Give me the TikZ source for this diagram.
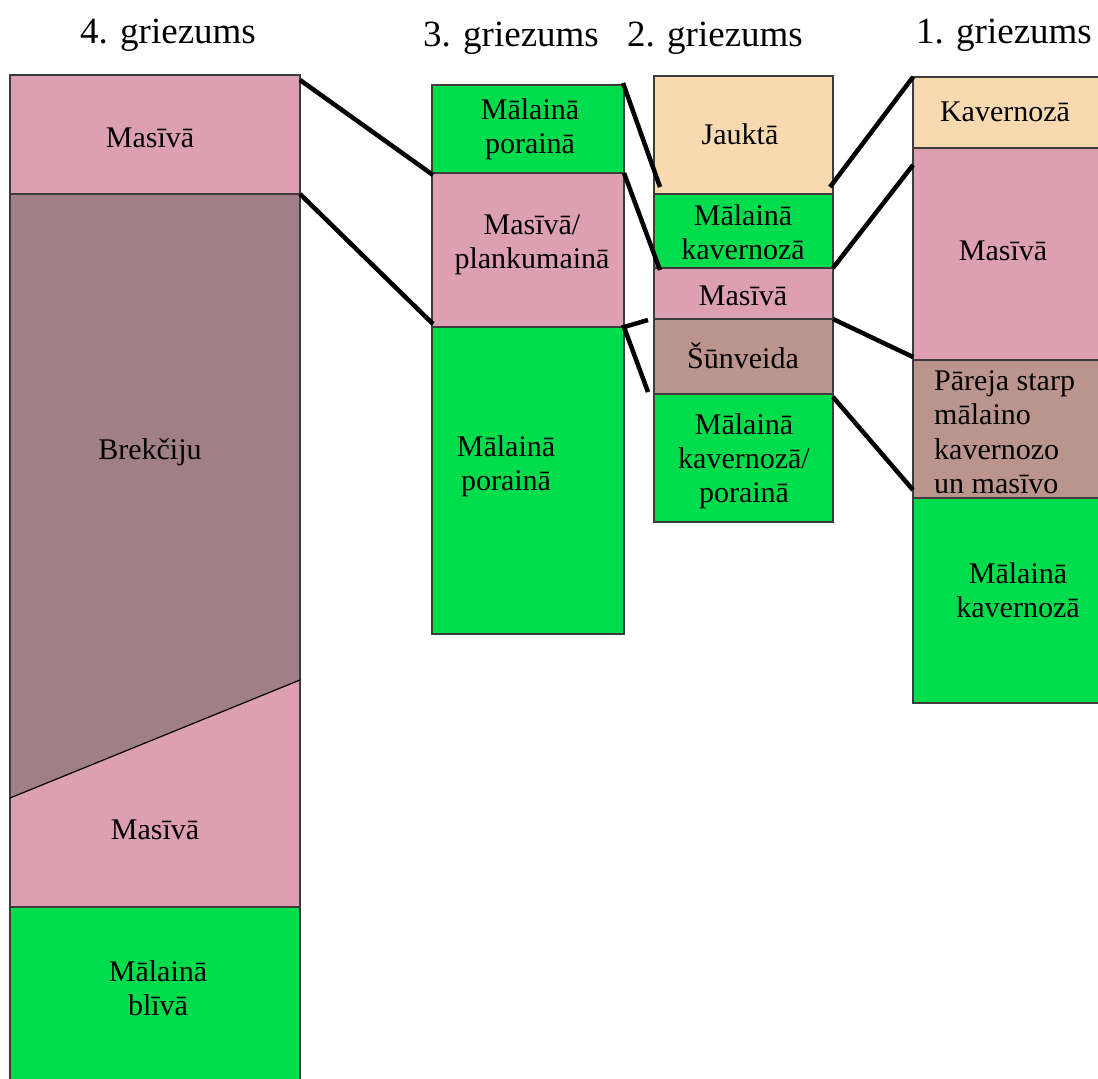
\documentclass[tikz,border=0pt]{standalone}
\usepackage{fontspec}
\setmainfont{Liberation Serif}
\usetikzlibrary{calc}
\definecolor{pinkc}{RGB}{221,160,178}
\definecolor{mauve}{RGB}{160,127,134}
\definecolor{greenc}{RGB}{0,221,76}
\definecolor{peach}{RGB}{248,217,176}
\definecolor{brownc}{RGB}{188,148,142}
\definecolor{edge}{RGB}{60,60,60}
\tikzset{
  cell/.style={draw=edge, line width=1.3pt, inner sep=0pt, outer sep=0pt, anchor=north west},
  lbl/.style={font=\fontsize{30}{34}\selectfont, align=center, inner sep=0pt},
  ttl/.style={font=\fontsize{37}{40}\selectfont, anchor=base, inner sep=0pt},
  conn/.style={line width=4.5pt, black}
}
\begin{document}
\begin{tikzpicture}[x=1pt,y=-1pt]
\useasboundingbox (0,0) rectangle (1098,1079);
\clip (0,0) rectangle (1098,1079);
\fill[white] (0,0) rectangle (1098,1079);
% titles
\node[ttl] (t4) at (168,43) {4. griezums};
\node[ttl] (t3) at (511,46) {3. griezums};
\node[ttl] (t2) at (715,46) {2. griezums};
\node[ttl] (t1) at (1004,43) {1. griezums};
% column 4
\node[cell, fill=pinkc, minimum width=290pt, minimum height=119pt] (c4a) at (10,75) {};
\node[cell, fill=pinkc, minimum width=290pt, minimum height=713pt] (c4b) at (10,194) {};
\fill[mauve] (10,194) -- (300,194) -- (300,680) -- (10,798) -- cycle;
\draw[edge, line width=1.3pt] (10,194) rectangle (300,907);
\draw[black, line width=1.2pt] (10,798) -- (300,680);
\node[cell, fill=greenc, minimum width=290pt, minimum height=190pt] (c4c) at (10,907) {};
\node[lbl] (l4a) at (150,138) {Masīvā};
\node[lbl] (l4b) at (150,452) {Brekčiju};
\node[lbl] (l4c) at (155,830) {Masīvā};
\node[lbl] (l4d) at (158,988) {Mālainā\\blīvā};
% column 3
\node[cell, fill=greenc, minimum width=192pt, minimum height=88pt] (c3a) at (432,85) {};
\node[cell, fill=pinkc, minimum width=192pt, minimum height=154pt] (c3b) at (432,173) {};
\node[cell, fill=greenc, minimum width=192pt, minimum height=307pt] (c3c) at (432,327) {};
\node[lbl] (l3a) at (530,129) {Mālainā\\porainā};
\node[lbl] (l3b) at (532,245) {Masīvā/\\plankumainā};
\node[lbl] (l3c) at (506,466) {Mālainā\\porainā};
% column 2
\node[cell, fill=peach, minimum width=179pt, minimum height=118pt] (c2a) at (654,76) {};
\node[cell, fill=greenc, minimum width=179pt, minimum height=74pt] (c2b) at (654,194) {};
\node[cell, fill=pinkc, minimum width=179pt, minimum height=51pt] (c2c) at (654,268) {};
\node[cell, fill=brownc, minimum width=179pt, minimum height=75pt] (c2d) at (654,319) {};
\node[cell, fill=greenc, minimum width=179pt, minimum height=128pt] (c2e) at (654,394) {};
\node[lbl] (l2a) at (740,134) {Jauktā};
\node[lbl] (l2b) at (743,232) {Mālainā\\kavernozā};
\node[lbl] (l2c) at (743,296) {Masīvā};
\node[lbl] (l2d) at (743,356) {Šūnveida};
\node[lbl] (l2e) at (744,461) {Mālainā\\kavernozā/\\porainā};
% column 1
\node[cell, fill=peach, minimum width=200pt, minimum height=71pt] (c1a) at (913,77) {};
\node[cell, fill=pinkc, minimum width=200pt, minimum height=212pt] (c1b) at (913,148) {};
\node[cell, fill=brownc, minimum width=200pt, minimum height=138pt] (c1c) at (913,360) {};
\node[cell, fill=greenc, minimum width=200pt, minimum height=205pt] (c1d) at (913,498) {};
\node[lbl] (l1a) at (1005,112) {Kavernozā};
\node[lbl] (l1b) at (1003,251) {Masīvā};
\node[lbl, align=left, anchor=west, font=\fontsize{30}{34.5}\selectfont] (l1c) at (934,432) {Pāreja starp\\mālaino\\kavernozo\\un masīvo};
\node[lbl] (l1d) at (1018,590) {Mālainā\\kavernozā};
% connectors
\draw[conn] ($(c4a.north east)+(0,5)$) -- ($(c3b.north west)+(1,2)$);
\draw[conn] (c4a.south east) -- ($(c3b.south west)+(1,-3)$);
\draw[conn] ($(c3a.north east)+(-1,-2)$) -- ($(c2a.south west)+(6,-7)$);
\draw[conn] (c3b.north east) -- ($(c2c.north west)+(6,2)$);
\draw[conn, line join=miter] ($(c2d.north west)+(-6,1)$) -- (c3c.north east) -- ($(c2d.south west)+(-6,-2)$);
\draw[conn] ($(c2a.south east)+(-3,-7)$) -- (c1a.north west);
\draw[conn] (c2b.south east) -- ($(c1b.north west)+(0,17)$);
\draw[conn] (c2c.south east) -- ($(c1b.south west)+(0,-3)$);
\draw[conn] ($(c2d.south east)+(0,3)$) -- ($(c1c.south west)+(0,-8)$);
\end{tikzpicture}
\end{document}
